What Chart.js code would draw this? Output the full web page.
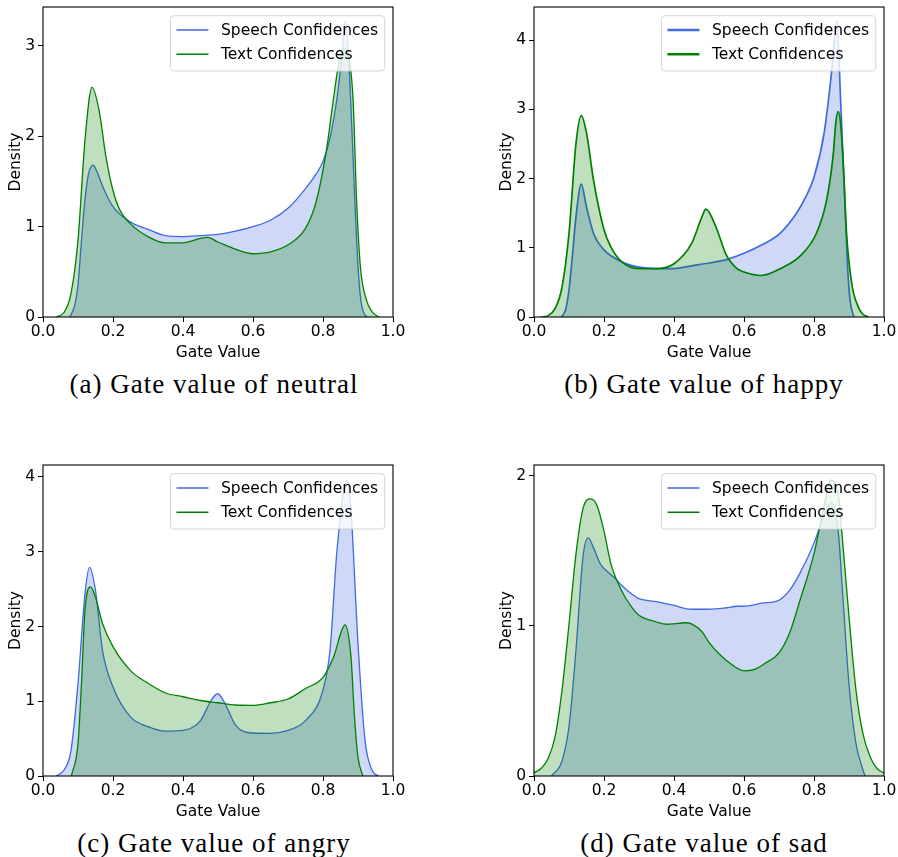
<!DOCTYPE html>
<html>
<head>
<meta charset="utf-8">
<script src="https://cdn.jsdelivr.net/npm/chart.js@4.4.1/dist/chart.umd.min.js"></script>
<style>
  html, body { margin: 0; padding: 0; background: #fff; }
  #wrap { position: relative; width: 898px; height: 857px; overflow: hidden; background: #fff; }
  canvas { position: absolute; }
  .cap { position: absolute; width: 420px; text-align: center; font-family: "Liberation Serif", serif;
         font-size: 27px; letter-spacing: 1px; line-height: 30px; color: #000; white-space: nowrap; }
</style>
</head>
<body>
<div id="wrap">
  <canvas id="cA" width="407" height="362" style="left:0px;top:0px;width:407px;height:362px"></canvas>
  <canvas id="cB" width="407" height="362" style="left:491px;top:0px;width:407px;height:362px"></canvas>
  <canvas id="cC" width="407" height="362" style="left:0px;top:459px;width:407px;height:362px"></canvas>
  <canvas id="cD" width="407" height="362" style="left:491px;top:459px;width:407px;height:362px"></canvas>
  <div class="cap" style="left:4px;top:369px">(a) Gate value of neutral</div>
  <div class="cap" style="left:494px;top:369px">(b) Gate value of happy</div>
  <div class="cap" style="left:4px;top:828px">(c) Gate value of angry</div>
  <div class="cap" style="left:494px;top:828px">(d) Gate value of sad</div>
</div>
<script>
// ---------- data ----------
const seriesLabels = ["Speech Confidences", "Text Confidences"];
const xTicks = [0.0, 0.2, 0.4, 0.6, 0.8, 1.0];

// (a) neutral
const neutralSpeechX = [0.076,0.09,0.1,0.11,0.12,0.13,0.143,0.155,0.17,0.2,0.25,0.3,0.35,0.4,0.45,0.5,0.55,0.6,0.65,0.705,0.75,0.78,0.8,0.82,0.84,0.853,0.864,0.872,0.879,0.891,0.9,0.908,0.916,0.926];
const neutralSpeechY = [0,0.12,0.35,0.85,1.3,1.58,1.68,1.6,1.45,1.22,1.05,0.97,0.9,0.89,0.9,0.915,0.95,1.0,1.07,1.22,1.42,1.58,1.72,1.98,2.42,2.85,3.27,2.95,2.4,1.29,0.56,0.19,0.05,0];
const neutralTextX = [0.038,0.06,0.08,0.1,0.12,0.14,0.16,0.18,0.2,0.22,0.25,0.3,0.35,0.4,0.45,0.47,0.5,0.55,0.6,0.65,0.705,0.75,0.78,0.81,0.83,0.845,0.86,0.87,0.886,0.896,0.907,0.924,0.94,0.959];
const neutralTextY = [0,0.05,0.26,0.85,1.96,2.54,2.29,1.77,1.4,1.18,1.03,0.89,0.82,0.82,0.87,0.88,0.83,0.75,0.7,0.72,0.81,0.98,1.27,1.85,2.42,2.8,2.97,2.93,2.4,1.29,0.55,0.19,0.06,0];

// (b) happy
const happySpeechX = [0.078,0.09,0.1,0.11,0.12,0.135,0.15,0.17,0.2,0.25,0.3,0.35,0.4,0.45,0.5,0.55,0.6,0.65,0.703,0.75,0.775,0.8,0.829,0.852,0.865,0.876,0.888,0.896,0.903,0.914];
const happySpeechY = [0,0.1,0.39,0.9,1.45,1.92,1.59,1.21,0.97,0.8,0.72,0.7,0.7,0.74,0.78,0.83,0.92,1.04,1.21,1.5,1.72,2.02,2.66,3.62,4.28,3.14,1.69,0.72,0.24,0];
const happyTextX = [0.02,0.04,0.06,0.08,0.1,0.12,0.135,0.15,0.17,0.2,0.22,0.25,0.3,0.35,0.4,0.45,0.48,0.491,0.52,0.55,0.58,0.6,0.65,0.712,0.76,0.807,0.836,0.855,0.862,0.869,0.876,0.884,0.893,0.908,0.927,0.94,0.956];
const happyTextY = [0,0.02,0.12,0.43,1.21,2.51,2.91,2.66,1.98,1.26,1.01,0.8,0.7,0.7,0.77,1.06,1.45,1.56,1.3,0.89,0.7,0.65,0.6,0.72,0.88,1.21,1.69,2.35,2.8,2.97,2.8,2.17,1.21,0.48,0.14,0.04,0];

// (c) angry
const angrySpeechX = [0.038,0.06,0.08,0.1,0.12,0.133,0.15,0.17,0.2,0.25,0.3,0.35,0.4,0.45,0.48,0.499,0.52,0.55,0.6,0.65,0.7,0.75,0.8,0.82,0.84,0.869,0.88,0.9,0.92,0.94,0.959];
const angrySpeechY = [0,0.08,0.34,1.24,2.44,2.79,2.48,1.68,1.19,0.79,0.66,0.6,0.61,0.74,1.01,1.1,0.97,0.68,0.575,0.57,0.61,0.74,1.15,1.68,3.02,3.96,3.55,1.77,0.48,0.08,0];
const angryTextX = [0.081,0.1,0.11,0.12,0.136,0.15,0.17,0.2,0.25,0.3,0.35,0.4,0.45,0.5,0.55,0.6,0.65,0.7,0.75,0.8,0.83,0.863,0.88,0.89,0.9,0.914];
const angryTextY = [0,0.43,1.24,2.22,2.53,2.39,2.04,1.73,1.41,1.24,1.11,1.06,1.01,0.98,0.95,0.945,0.98,1.03,1.17,1.32,1.59,2.02,1.59,0.79,0.25,0];

// (d) sad
const sadSpeechX = [0.05,0.08,0.1,0.12,0.14,0.155,0.17,0.19,0.21,0.23,0.25,0.28,0.3,0.35,0.4,0.45,0.5,0.55,0.58,0.6,0.65,0.7,0.73,0.76,0.8,0.83,0.85,0.87,0.88,0.9,0.92,0.94,0.946];
const sadSpeechY = [0,0.1,0.33,0.84,1.46,1.585,1.52,1.41,1.36,1.32,1.27,1.21,1.18,1.16,1.135,1.11,1.11,1.12,1.13,1.13,1.15,1.17,1.235,1.35,1.55,1.745,1.82,1.61,1.28,0.61,0.215,0.04,0];
const sadTextX = [0,0.02,0.04,0.06,0.08,0.1,0.12,0.14,0.162,0.18,0.2,0.22,0.25,0.28,0.3,0.35,0.38,0.4,0.43,0.45,0.48,0.5,0.53,0.56,0.6,0.63,0.66,0.7,0.73,0.76,0.8,0.83,0.848,0.87,0.88,0.9,0.92,0.94,0.96,0.98,1.0];
const sadTextY = [0.02,0.05,0.115,0.26,0.57,1.01,1.48,1.78,1.845,1.8,1.63,1.41,1.235,1.12,1.07,1.025,1.01,1.013,1.02,1.013,0.96,0.89,0.81,0.75,0.7,0.71,0.75,0.82,0.95,1.17,1.48,1.81,1.97,1.86,1.61,1.06,0.57,0.28,0.13,0.05,0.02];

// ---------- styles ----------
const SPEECH_LINE = "#4169e1", SPEECH_FILL = "rgba(65,105,225,0.25)";
const TEXT_LINE = "#008000", TEXT_FILL = "rgba(0,128,0,0.25)";
const FONT = "DejaVu Sans";
const FS = 15.5;

function pts(xs, ys) { return xs.map((x, i) => ({x: x, y: ys[i]})); }

const framePlugin = {
  id: "frame",
  afterDatasetsDraw(chart) {
    const {ctx, chartArea: a} = chart;
    ctx.save();
    ctx.strokeStyle = "#000";
    ctx.lineWidth = 1.1;
    ctx.strokeRect(a.left, a.top, a.right - a.left, a.bottom - a.top);
    ctx.restore();
  }
};

const boxLegendPlugin = {
  id: "boxLegend",
  afterDraw(chart, args, opts) {
    const {ctx, chartArea: a} = chart;
    const ds = chart.data.datasets;
    ctx.save();
    ctx.font = FS + "px '" + FONT + "'";
    let tw = 0;
    ds.forEach(d => { tw = Math.max(tw, ctx.measureText(d.label).width); });
    const w = 6 + 32 + 12.5 + tw + 6.5;
    const h = 55.3;
    const x = a.right - 8.3 - w;
    const y = a.top + 8.7;
    ctx.beginPath();
    ctx.roundRect(x, y, w, h, 3.5);
    ctx.fillStyle = "rgba(255,255,255,0.8)";
    ctx.fill();
    ctx.strokeStyle = "rgba(204,204,204,0.8)";
    ctx.lineWidth = 1;
    ctx.stroke();
    const rows = [14.3, 38.6];
    ds.forEach((d, i) => {
      const ry = y + rows[i];
      ctx.beginPath();
      ctx.moveTo(x + 6, ry);
      ctx.lineTo(x + 38, ry);
      ctx.strokeStyle = d.borderColor;
      ctx.lineWidth = opts.handleWidth || 1.5;
      ctx.stroke();
      ctx.fillStyle = "#000";
      ctx.textBaseline = "middle";
      ctx.textAlign = "left";
      ctx.fillText(d.label, x + 50.5, ry + 0.5);
    });
    ctx.restore();
  }
};

function makeChart(id, sx, sy, tx, ty, ymax, padTop, lw, handleW) {
  const ctx = document.getElementById(id);
  return new Chart(ctx, {
    type: "line",
    data: {
      datasets: [
        { label: seriesLabels[0], data: pts(sx, sy), borderColor: SPEECH_LINE, backgroundColor: SPEECH_FILL,
          fill: "origin", borderWidth: lw, pointRadius: 0, cubicInterpolationMode: "monotone", order: 2 },
        { label: seriesLabels[1], data: pts(tx, ty), borderColor: TEXT_LINE, backgroundColor: TEXT_FILL,
          fill: "origin", borderWidth: lw, pointRadius: 0, cubicInterpolationMode: "monotone", order: 1 }
      ]
    },
    options: {
      responsive: false,
      animation: false,
      devicePixelRatio: 1,
      layout: { padding: { top: padTop, right: 14, left: 0, bottom: 0 } },
      plugins: { legend: { display: false }, tooltip: { enabled: false }, boxLegend: { handleWidth: handleW } },
      scales: {
        x: {
          type: "linear", min: 0, max: 1, offset: false,
          afterFit(s) { s.height = 45; s.paddingLeft = 0; s.paddingRight = 0; s.paddingTop = 0; s.paddingBottom = 0; },
          afterBuildTicks(s) { s.ticks = xTicks.map(v => ({value: v})); },
          ticks: { font: {family: FONT, size: FS}, color: "#000", padding: 1, maxRotation: 0, autoSkip: false,
                   callback: v => Number(v).toFixed(1) },
          grid: { display: true, drawOnChartArea: false, drawTicks: true, tickLength: 5, color: "#000", lineWidth: 1 },
          border: { display: false },
          title: { display: true, text: "Gate Value", font: {family: FONT, size: FS}, color: "#000", padding: {top: 0, bottom: 0} }
        },
        y: {
          type: "linear", min: 0, max: ymax,
          afterFit(s) { s.width = 43; s.paddingLeft = 0; s.paddingRight = 0; s.paddingTop = 0; s.paddingBottom = 0; },
          ticks: { stepSize: 1, includeBounds: false, font: {family: FONT, size: FS}, color: "#000", padding: 3,
                   callback: v => String(v) },
          grid: { display: true, drawOnChartArea: false, drawTicks: true, tickLength: 5, color: "#000", lineWidth: 1 },
          border: { display: false },
          title: { display: true, text: "Density", font: {family: FONT, size: FS}, color: "#000", padding: {top: 6.5, bottom: 0} }
        }
      }
    },
    plugins: [framePlugin, boxLegendPlugin]
  });
}

makeChart("cA", neutralSpeechX, neutralSpeechY, neutralTextX, neutralTextY, 3.43, 7, 1.3, 1.6);
makeChart("cB", happySpeechX, happySpeechY, happyTextX, happyTextY, 4.48, 7, 1.7, 2.4);
makeChart("cC", angrySpeechX, angrySpeechY, angryTextX, angryTextY, 4.16, 6, 1.3, 1.6);
makeChart("cD", sadSpeechX, sadSpeechY, sadTextX, sadTextY, 2.07, 6, 1.3, 1.6);
</script>
</body>
</html>
